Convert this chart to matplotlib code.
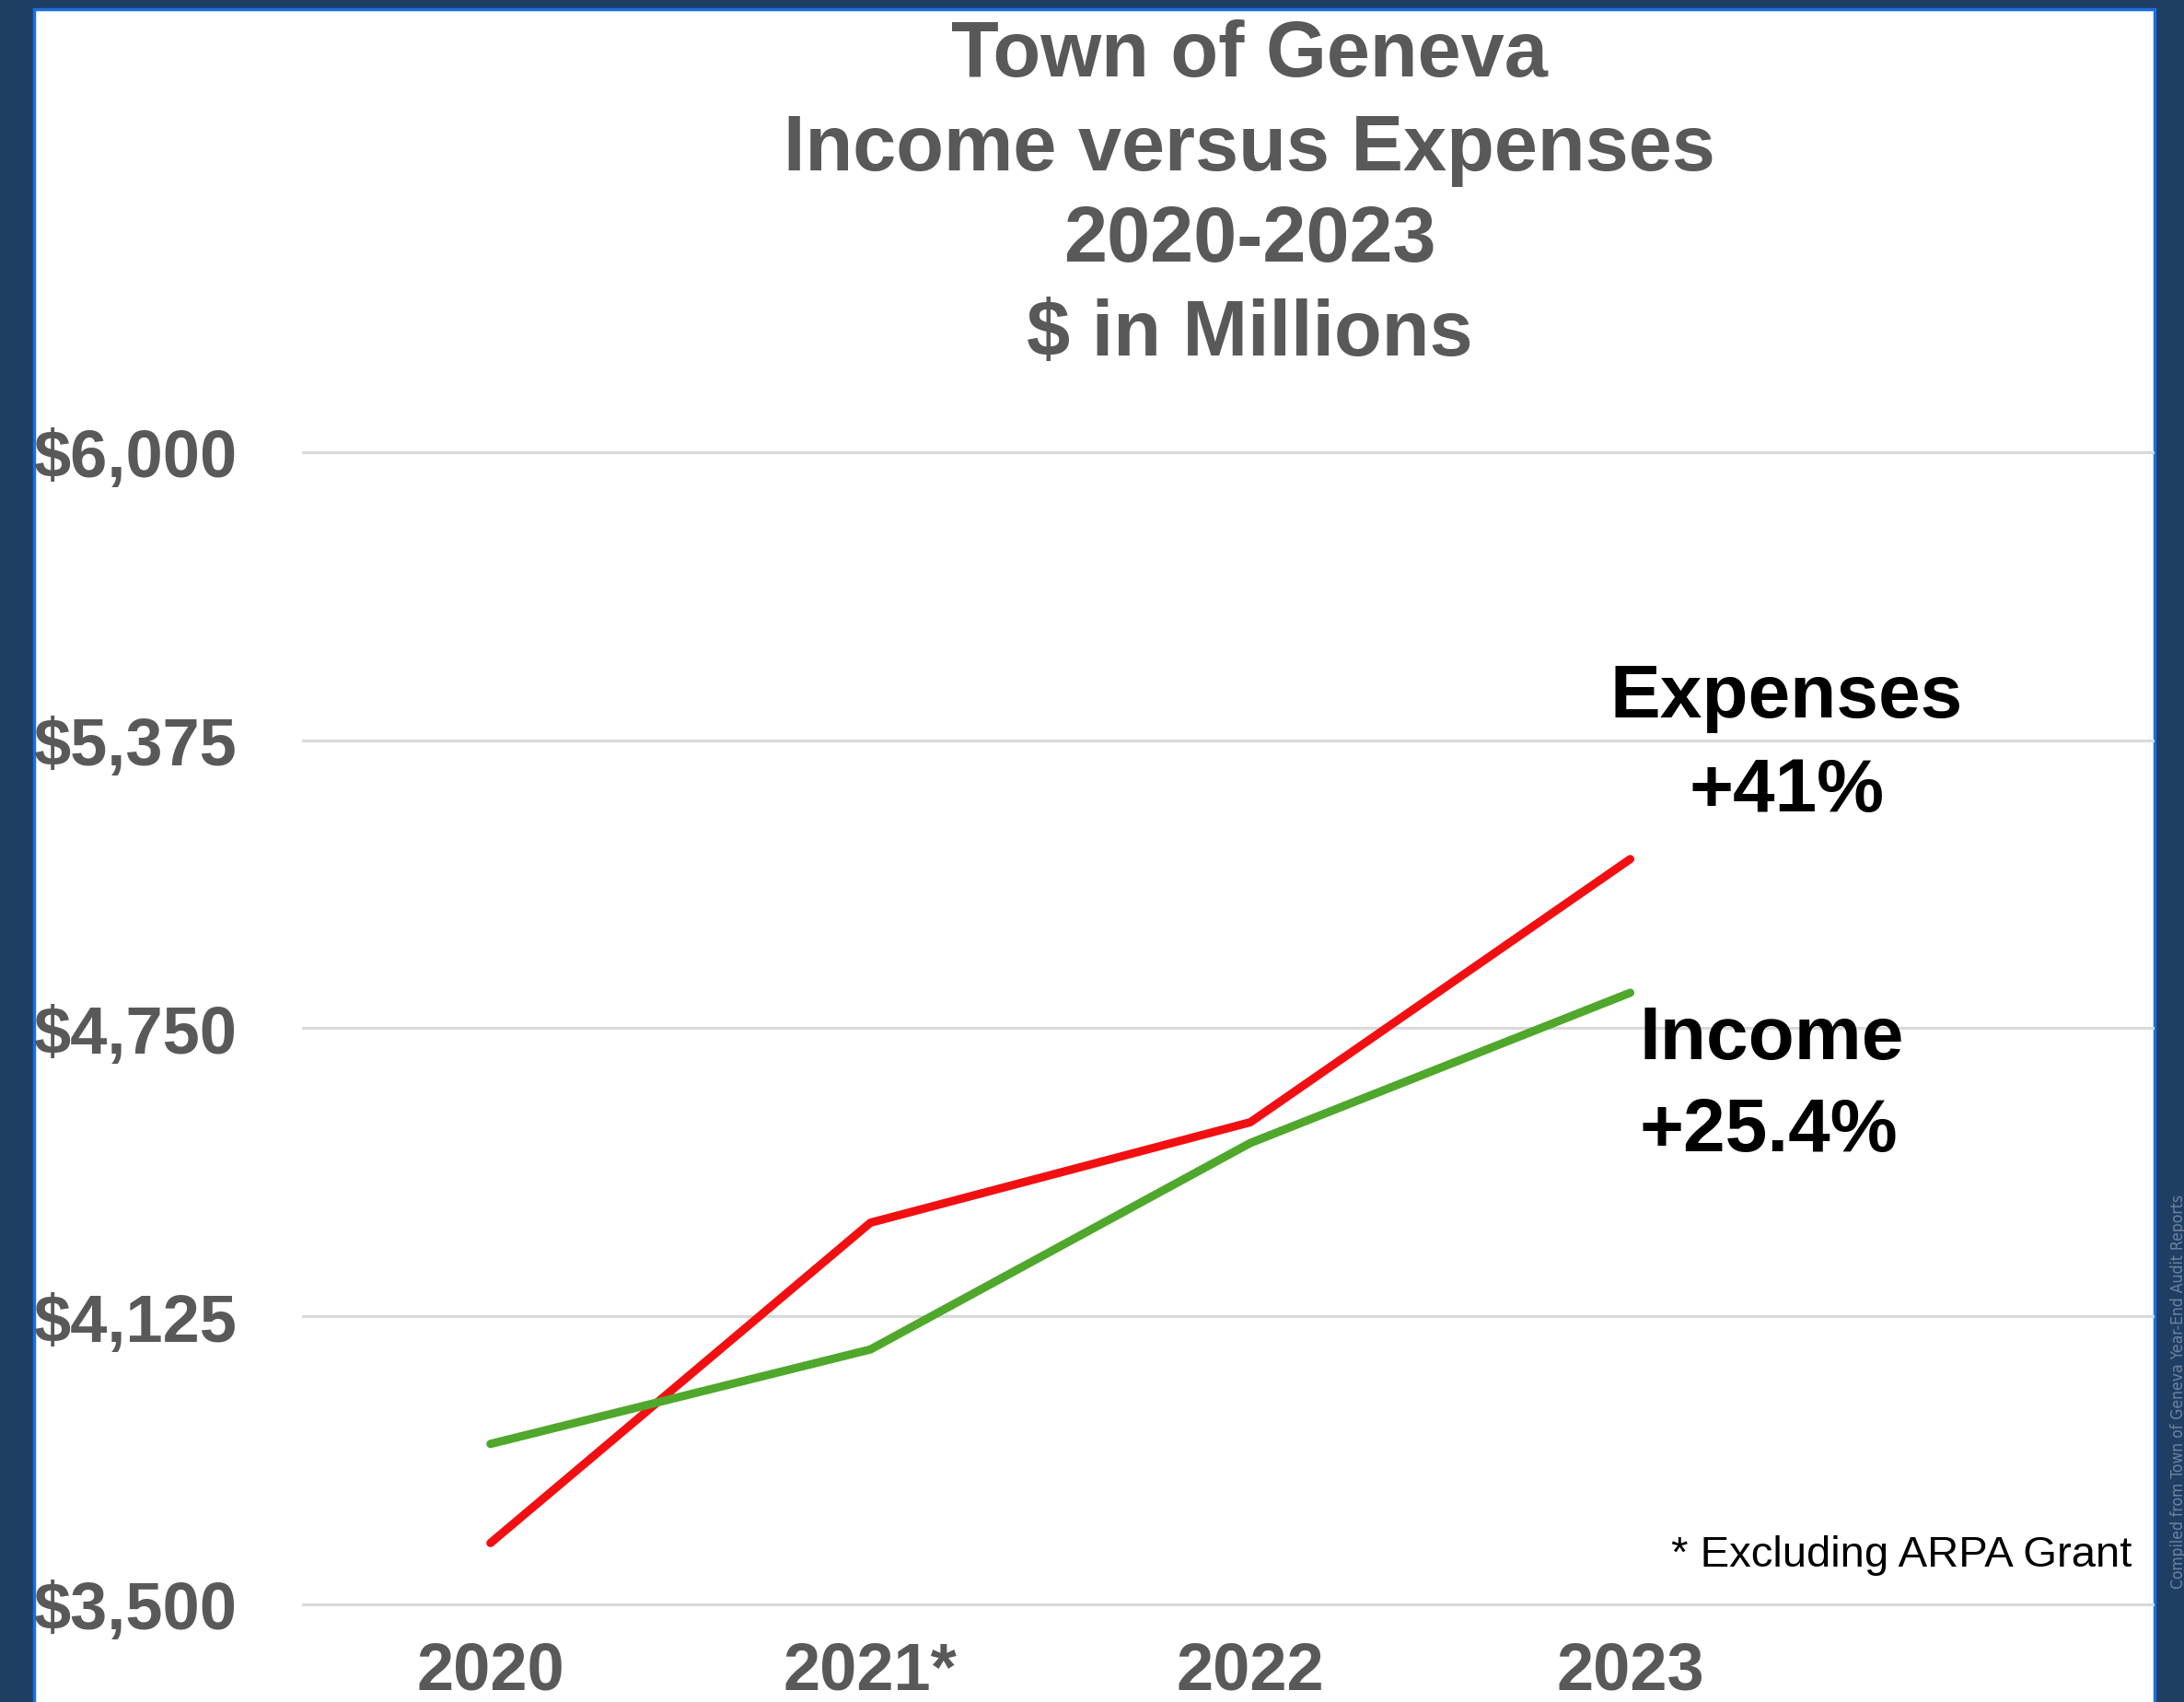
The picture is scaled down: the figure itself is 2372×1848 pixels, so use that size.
import matplotlib
matplotlib.use('Agg')
import matplotlib.pyplot as plt
from matplotlib.patches import Rectangle

# data ($ in thousands)
years = ['2020', '2021*', '2022', '2023']
expenses = [3633, 4328, 4546, 5117]
income = [3848, 4053, 4501, 4827]
y_ticks = [3500, 4125, 4750, 5375, 6000]
y_labels = ['$3,500', '$4,125', '$4,750', '$5,375', '$6,000']

navy = '#1e3e64'
gray = '#595959'

plt.rcParams['font.family'] = ['Liberation Sans', 'DejaVu Sans']

fig = plt.figure(figsize=(23.72, 18.49), dpi=100, facecolor=navy)

# white panel with thin blue edge
panel = Rectangle((0.0156, -0.02), 0.9709, 1.0140, transform=fig.transFigure,
                  facecolor='white', edgecolor='#1a6fe0', linewidth=2.5, zorder=-1)
fig.add_artist(panel)

ax = fig.add_axes([0.1383, 0.0303, 0.8482, 0.7307])
ax.patch.set_alpha(0)
x = list(range(len(years)))
ax.plot(x, expenses, color='#f20f12', lw=6.5, solid_capstyle='round', solid_joinstyle='round', zorder=3)
ax.plot(x, income, color='#4fa82c', lw=6.5, solid_capstyle='round', solid_joinstyle='round', zorder=3)

ax.set_xlim(-0.496, 4.38)
ax.set_ylim(3400, 6100)
ax.set_yticks(y_ticks)
ax.set_yticklabels(y_labels)
ax.set_xticks(x)
ax.set_xticklabels(years)
ax.tick_params(axis='both', length=0, labelsize=52, labelcolor=gray)
ax.tick_params(axis='y', pad=51)
ax.tick_params(axis='x', pad=-8)
for lab in ax.get_xticklabels() + ax.get_yticklabels():
    lab.set_fontweight('bold')
ax.grid(axis='y', color='#d9d9d9', lw=2.2)
ax.set_axisbelow(True)
for s in ax.spines.values():
    s.set_visible(False)

# title lines
title_lines = ['Town of Geneva', 'Income versus Expenses', '2020-2023', '$ in Millions']
for line, yb in zip(title_lines, [0.9551, 0.8999, 0.8464, 0.7912]):
    fig.text(0.5721, yb, line, ha='center', va='baseline', fontsize=61,
             fontweight='bold', color=gray)

# series labels
fig.text(0.8179, 0.5787, 'Expenses', ha='center', va='baseline', fontsize=59, fontweight='bold', color='black')
fig.text(0.8179, 0.5235, '+41%', ha='center', va='baseline', fontsize=59, fontweight='bold', color='black')
fig.text(0.7508, 0.3780, 'Income', ha='left', va='baseline', fontsize=59, fontweight='bold', color='black')
fig.text(0.7508, 0.3240, '+25.4%', ha='left', va='baseline', fontsize=59, fontweight='bold', color='black')

fig.text(0.9760, 0.0800, '* Excluding ARPA Grant', ha='right', va='baseline', fontsize=34, color='black')

fig.text(0.9975, 0.0671, 'Compiled from Town of Geneva Year-End Audit Reports', rotation=90,
         ha='center', va='bottom', fontsize=12.5, color='#71829c',
         family='DejaVu Sans', fontstretch='condensed')

fig.savefig('out.png', dpi=100, facecolor=navy)
